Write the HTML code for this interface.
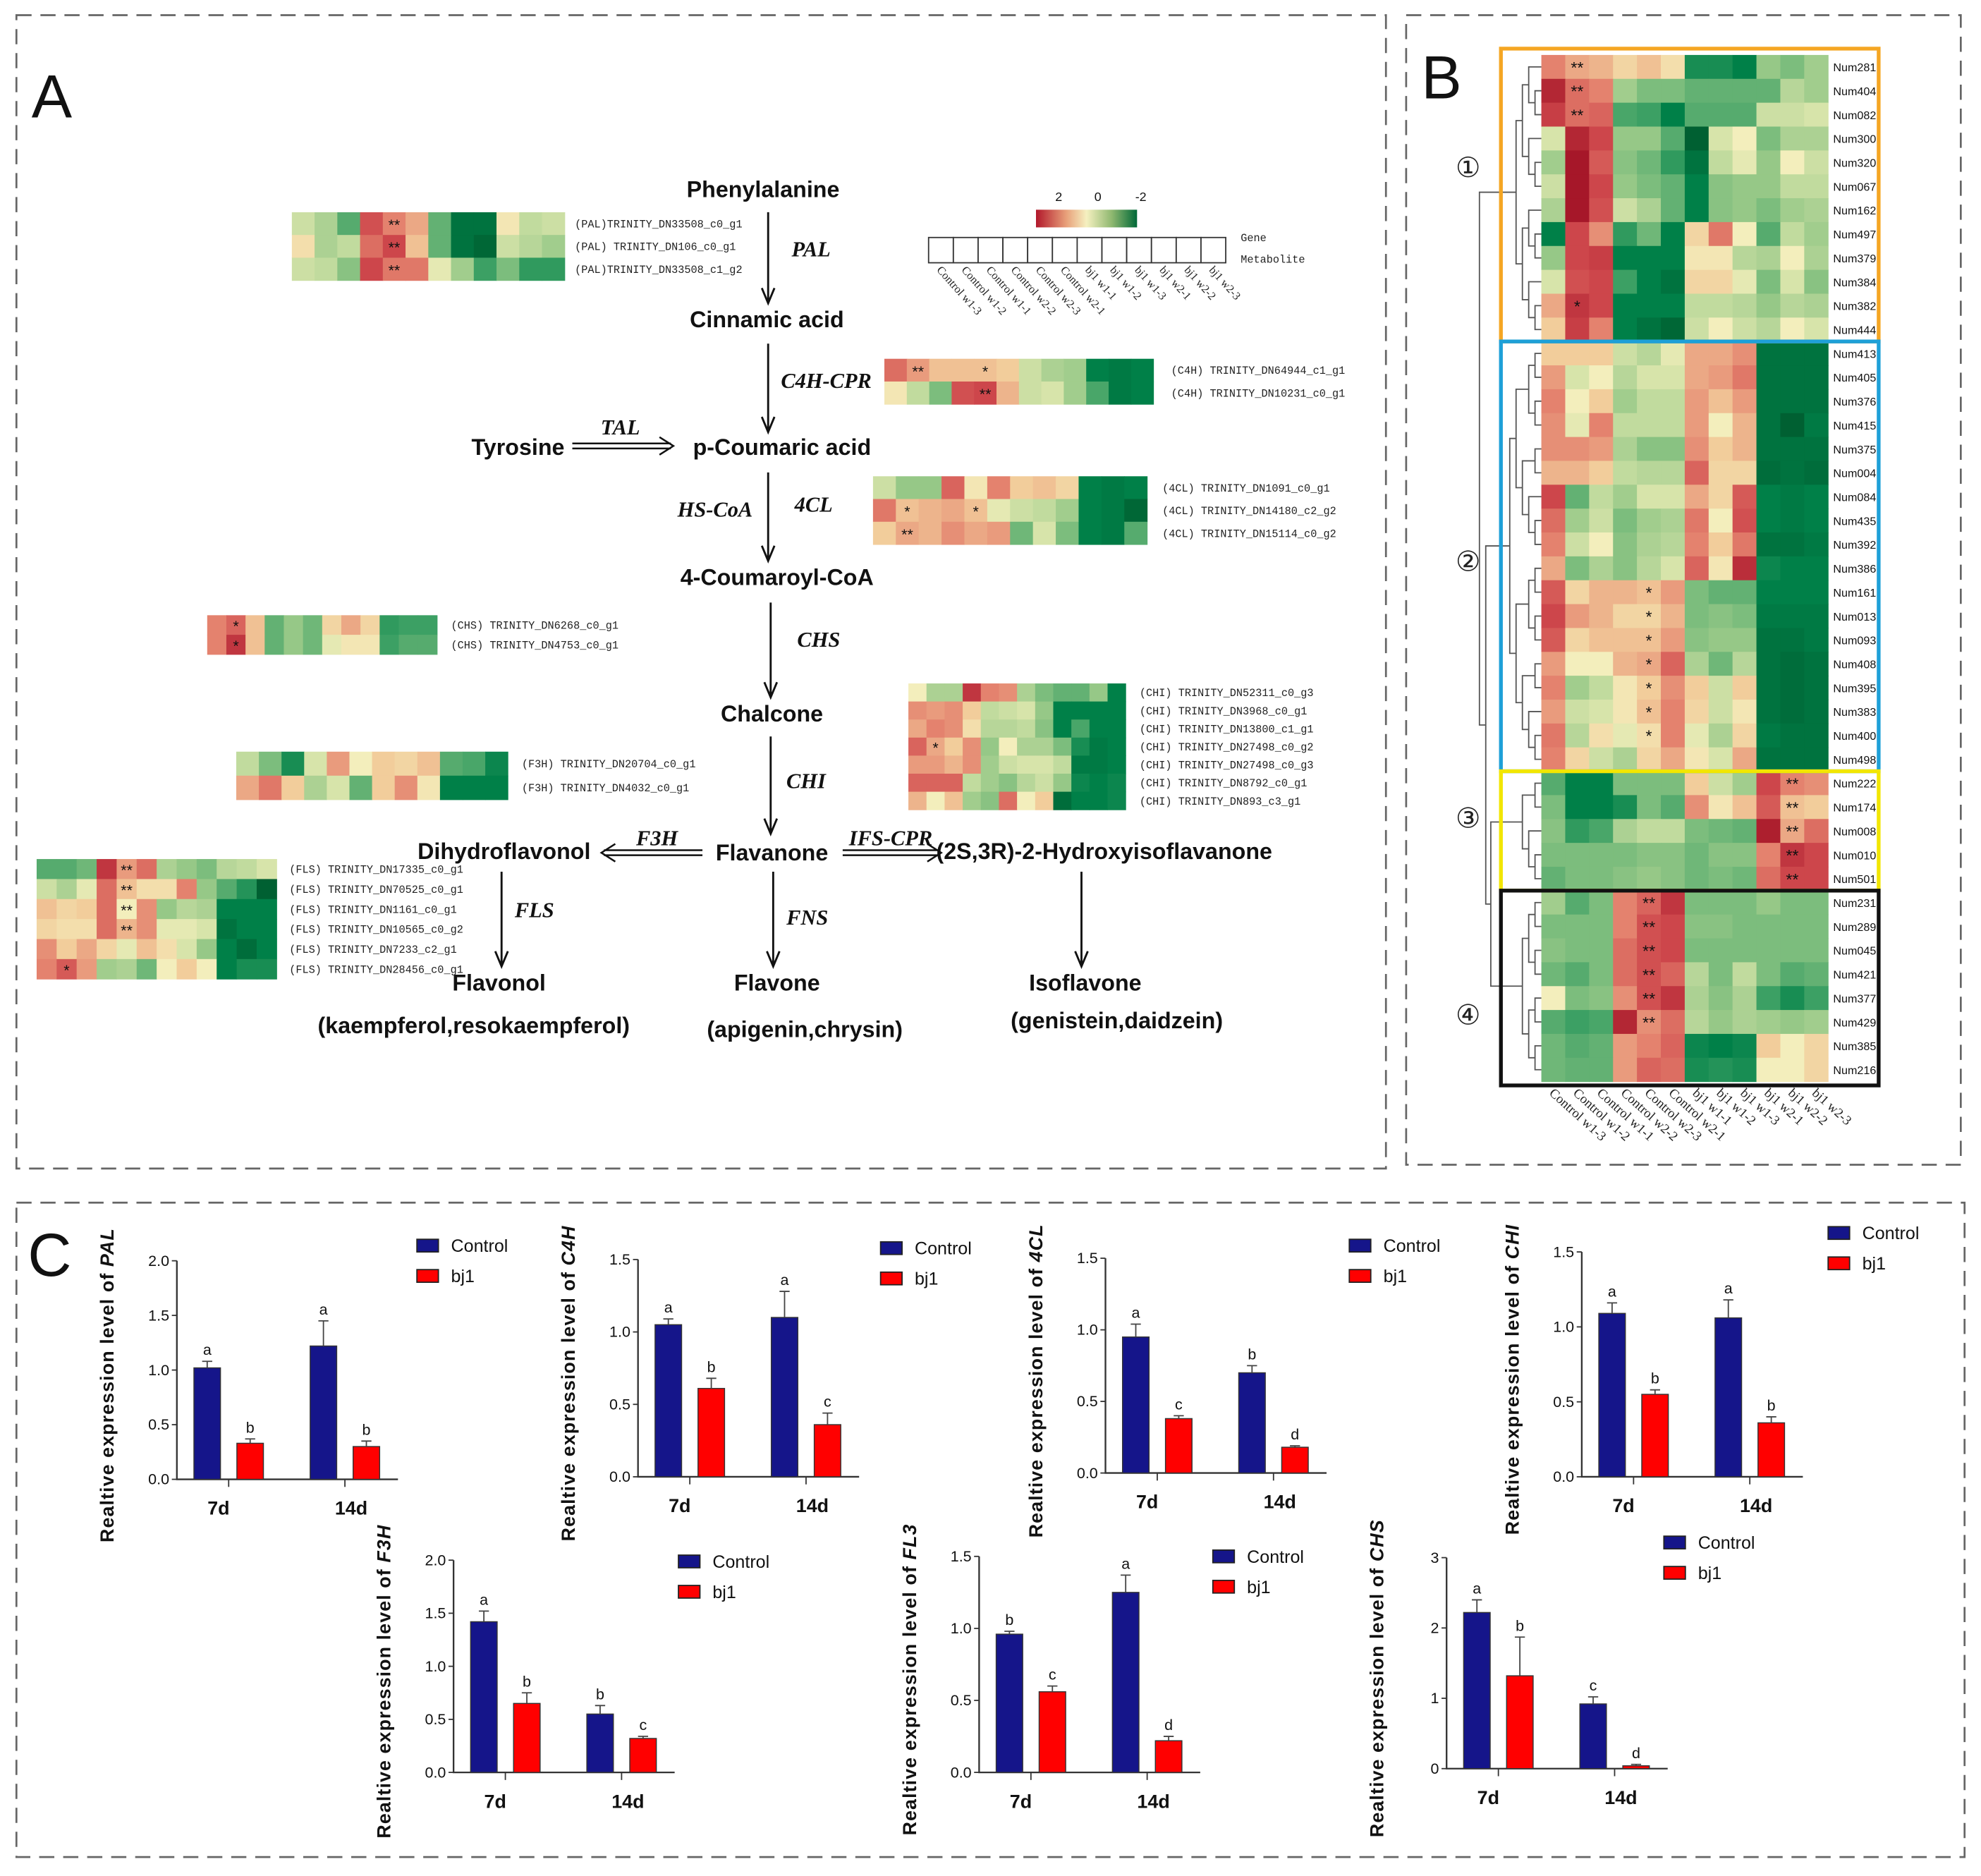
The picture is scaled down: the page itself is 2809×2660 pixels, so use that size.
<!DOCTYPE html>
<html><head><meta charset="utf-8">
<style>
html,body{margin:0;padding:0;background:#fff;}
svg{display:block;}
.cmp{font-family:"Liberation Sans",Arial,sans-serif;font-weight:bold;font-size:18px;fill:#111;text-anchor:middle;}
.enz{font-family:"Liberation Serif",serif;font-style:italic;font-weight:bold;font-size:17px;fill:#111;text-anchor:middle;}
.gl{font-family:"Liberation Mono",monospace;font-size:8.5px;fill:#222;}
.ser{font-family:"Liberation Serif",serif;fill:#222;}
.sans{font-family:"Liberation Sans",Arial,sans-serif;fill:#111;}
</style></head>
<body>
<svg id="fig" xmlns="http://www.w3.org/2000/svg" width="2809" height="2660" viewBox="0 0 1568 1485" preserveAspectRatio="none">
<rect x="0" y="0" width="1568" height="1485" fill="#fff"/>
<g fill="none" stroke="#666" stroke-width="1.5" stroke-dasharray="12 7">
<rect x="13" y="12" width="1084" height="913"/>
<rect x="1113" y="12" width="439" height="910"/>
<rect x="13" y="952" width="1542" height="518"/>
</g>
<text x="25" y="93" class="sans" font-size="48">A</text>
<text x="1125" y="78" class="sans" font-size="48">B</text>
<text x="22" y="1010" class="sans" font-size="48">C</text>

<g id="pathway">
<text x="604" y="156" class="cmp">Phenylalanine</text>
<text x="607" y="259" class="cmp">Cinnamic acid</text>
<text x="619" y="360" class="cmp">p-Coumaric acid</text>
<text x="615" y="463" class="cmp">4-Coumaroyl-CoA</text>
<text x="611" y="571" class="cmp">Chalcone</text>
<text x="611" y="681" class="cmp">Flavanone</text>
<text x="399" y="680" class="cmp">Dihydroflavonol</text>
<text x="874" y="680" class="cmp" font-size="15.5">(2S,3R)-2-Hydroxyisoflavanone</text>
<text x="395" y="784" class="cmp">Flavonol</text>
<text x="615" y="784" class="cmp">Flavone</text>
<text x="859" y="784" class="cmp">Isoflavone</text>
<text x="375" y="818" class="cmp" font-size="16">(kaempferol,resokaempferol)</text>
<text x="637" y="821" class="cmp" font-size="16">(apigenin,chrysin)</text>
<text x="884" y="814" class="cmp" font-size="16">(genistein,daidzein)</text>
<text x="410" y="360" class="cmp" font-size="13">Tyrosine</text>
<text x="642" y="203" class="enz">PAL</text>
<text x="654" y="307" class="enz">C4H-CPR</text>
<text x="491" y="344" class="enz">TAL</text>
<text x="566" y="409" class="enz">HS-CoA</text>
<text x="644" y="405" class="enz">4CL</text>
<text x="648" y="512" class="enz">CHS</text>
<text x="638" y="624" class="enz">CHI</text>
<text x="520" y="669" class="enz">F3H</text>
<text x="705" y="669" class="enz">IFS-CPR</text>
<text x="423" y="726" class="enz">FLS</text>
<text x="639" y="732" class="enz">FNS</text>
<g stroke="#111" stroke-width="1.6" fill="none">
<path d="M608 168 V240 M603 228 L608 240 L613 228"/>
<path d="M608 272 V342 M603 330 L608 342 L613 330"/>
<path d="M608 374 V444 M603 432 L608 444 L613 432"/>
<path d="M610 477 V552 M605 540 L610 552 L615 540"/>
<path d="M610 583 V660 M605 648 L610 660 L615 648"/>
<path d="M612 690 V765 M607 753 L612 765 L617 753"/>
<path d="M397 690 V765 M392 753 L397 765 L402 753"/>
<path d="M856 690 V765 M851 753 L856 765 L861 753"/>
<path d="M453 351 H531 M453 355 H531 M522 346 L533 353 L522 360" stroke-width="1.4"/>
<path d="M556 673 H478 M556 677 H478 M487 668 L476 675 L487 682" stroke-width="1.4"/>
<path d="M667 673 H743 M667 677 H743 M734 668 L745 675 L734 682" stroke-width="1.4"/>
</g>
</g>
<g id="legendA">
<defs><linearGradient id="cb" x1="0" x2="1"><stop offset="0" stop-color="#b2182b"/><stop offset="0.3" stop-color="#e8a07a"/><stop offset="0.5" stop-color="#f5f0c0"/><stop offset="0.75" stop-color="#8fb870"/><stop offset="1" stop-color="#006837"/></linearGradient></defs>
<rect x="820" y="166" width="80" height="14" fill="url(#cb)"/>
<text x="838" y="159" class="sans" font-size="10" text-anchor="middle">2</text>
<text x="869" y="159" class="sans" font-size="10" text-anchor="middle">0</text>
<text x="903" y="159" class="sans" font-size="10" text-anchor="middle">-2</text>
<text x="982" y="191" class="gl" font-size="11">Gene</text>
<text x="982" y="208" class="gl" font-size="11">Metabolite</text>
</g>
<g id="hmA"></g>
<g id="hmB"></g>
<g id="charts"></g>
</svg>
<script>
// ---------- heatmap data (values on -2..2 scale, red=high, green=low) ----------
const sampleLabels = ["Control w1-3","Control w1-2","Control w1-1","Control w2-2","Control w2-3","Control w2-1","bj1 w1-1","bj1 w1-2","bj1 w1-3","bj1 w2-1","bj1 w2-2","bj1 w2-3"];
const palVals = [[-0.3,-0.6,-1.3,1.5,1,0.7,-1.2,-2.2,-2.2,0.1,-0.4,-0.3],[0.2,-0.6,-0.4,1.2,1.6,0.5,-1.2,-2.2,-2.4,-0.3,-0.5,-0.7],[-0.3,-0.4,-0.9,1.6,1.1,1.1,-0.1,-0.7,-1.5,-1,-1.6,-1.6]];
const palGenes = ["(PAL)TRINITY_DN33508_c0_g1","(PAL) TRINITY_DN106_c0_g1","(PAL)TRINITY_DN33508_c1_g2"];
const c4hVals = [[1.2,0.8,0.5,0.5,0.5,0.4,-0.3,-0.6,-0.7,-2,-2.1,-2],[0.1,-0.4,-1,1.5,1.6,0.6,-0.3,-0.2,-0.7,-1.4,-2.1,-2]];
const c4hGenes = ["(C4H) TRINITY_DN64944_c1_g1","(C4H) TRINITY_DN10231_c0_g1"];
const cl4Vals = [[-0.3,-0.8,-0.8,1.3,0.1,1,0.4,0.5,0.3,-2,-2.1,-2],[1.1,0.5,0.6,0.7,0.5,-0.1,-0.3,-0.4,-0.7,-2,-2.1,-2.4],[0.4,0.7,0.6,0.9,0.7,0.8,-1.1,-0.2,-1,-2,-2.1,-1.3]];
const cl4Genes = ["(4CL) TRINITY_DN1091_c0_g1","(4CL) TRINITY_DN14180_c2_g2","(4CL) TRINITY_DN15114_c0_g2"];
const chsVals = [[1,1.3,0.5,-1.2,-0.8,-1.1,0.3,0.7,0.3,-1.6,-1.5,-1.5],[1,1.8,0.5,-1.2,-0.8,-1.1,-0.1,0.1,0.1,-1.5,-1.3,-1.3]];
const chsGenes = ["(CHS) TRINITY_DN6268_c0_g1","(CHS) TRINITY_DN4753_c0_g1"];
const f3hVals = [[-0.4,-1,-1.8,-0.2,0.8,0,0.4,0.3,0.5,-1.3,-1.4,-1.9],[0.7,1.1,0.4,-0.6,-0.2,-1.2,0.4,0.9,0.1,-2,-2,-2]];
const f3hGenes = ["(F3H) TRINITY_DN20704_c0_g1","(F3H) TRINITY_DN4032_c0_g1"];
const chiVals = [[0,-0.6,-0.6,1.8,1,0.9,-0.6,-1,-1.2,-1.2,-0.8,-2],[0.9,0.8,0.9,0.4,-0.4,-0.3,-0.2,-0.8,-2,-2,-2,-2],[0.7,1,0.9,0.2,-0.5,-0.5,-0.4,-0.9,-2,-1.4,-2,-2],[1.3,0.7,0.4,0.9,-0.8,0,-0.6,-0.6,-1,-1.8,-2.1,-2],[0.8,0.8,0.6,0.9,-0.7,-0.3,-0.2,-0.2,-0.4,-2.1,-2.1,-2],[1.3,1.3,1.3,-0.4,-0.7,-0.9,-0.5,-0.3,-0.8,-1.9,-2,-1.9],[0.6,0,0.5,-0.7,-0.9,1.2,0,0.4,-2.3,-2,-2,-1.9]];
const chiGenes = ["(CHI) TRINITY_DN52311_c0_g3","(CHI) TRINITY_DN3968_c0_g1","(CHI) TRINITY_DN13800_c1_g1","(CHI) TRINITY_DN27498_c0_g2","(CHI) TRINITY_DN27498_c0_g3","(CHI) TRINITY_DN8792_c0_g1","(CHI) TRINITY_DN893_c3_g1"];
const flsVals = [[-1.3,-1.3,-1.1,1.8,0.8,1.2,-0.6,-0.8,-1,-0.5,-0.4,-0.2],[-0.3,-0.6,-0.1,1.2,0.5,0.2,0.2,1,-0.8,-1.3,-1.7,-2.5],[0.5,0.3,0.4,1.2,0,0.9,-0.8,-0.5,-0.6,-2,-2,-2],[0.3,0.2,0.2,1.2,0.6,0.9,-0.1,-0.1,-0.2,-2.2,-2,-2],[0.9,0.4,0.7,0.3,-0.1,0.5,0.2,-0.2,-0.8,-2,-2.3,-2],[1,1.4,0.8,-0.7,-0.6,-1.1,0,0.4,0,-2,-1.8,-1.8]];
const flsGenes = ["(FLS) TRINITY_DN17335_c0_g1","(FLS) TRINITY_DN70525_c0_g1","(FLS) TRINITY_DN1161_c0_g1","(FLS) TRINITY_DN10565_c0_g2","(FLS) TRINITY_DN7233_c2_g1","(FLS) TRINITY_DN28456_c0_g1"];

const metNames = ["Num281","Num404","Num082","Num300","Num320","Num067","Num162","Num497","Num379","Num384","Num382","Num444",
"Num413","Num405","Num376","Num415","Num375","Num004","Num084","Num435","Num392","Num386","Num161","Num013","Num093","Num408","Num395","Num383","Num400","Num498",
"Num222","Num174","Num008","Num010","Num501",
"Num231","Num289","Num045","Num421","Num377","Num429","Num385","Num216"];
const metVals = [
[1,0.7,0.6,0.3,0.5,0.2,-1.8,-1.8,-2,-0.8,-1,-0.7],
[2,1.2,1,-0.7,-1,-1,-1.2,-1.2,-1.2,-1.2,-0.5,-0.7],
[1.7,1.2,1.3,-1.4,-1.5,-2,-1.3,-1.3,-1.3,-0.3,-0.3,-0.2],
[-0.2,2,1.6,-0.8,-0.8,-1.3,-2.5,-0.2,0,-1,-0.6,-0.6],
[-0.7,2.2,1.4,-0.9,-1.1,-1.6,-2.2,-0.4,-0.1,-0.8,0,-0.3],
[-0.3,2.2,1.6,-0.8,-1,-1.2,-2,-0.9,-0.8,-0.8,-0.4,-0.4],
[-0.6,2.2,1.5,-0.3,-0.6,-1.2,-2,-0.9,-0.8,-1,-0.7,-0.6],
[-2,1.6,0.9,-1.6,-1.1,-2,0.3,1.1,0,-1.3,-0.4,-0.7],
[-0.8,1.6,1.7,-2,-2,-2,0.1,0.1,-0.5,-0.6,0,-0.6],
[-0.2,1.5,1.6,-1.5,-2,-2.2,0.3,0.3,-0.1,-1,-0.2,-0.9],
[0.7,1.8,1.6,-2,-2,-2,-0.4,-0.4,-0.5,-0.8,-0.5,-0.6],
[0.4,1.7,1,-2,-2.2,-2.4,-0.3,0,-0.3,-0.5,0,-0.2],
[0.4,0.4,0.4,-0.3,-0.5,-0.1,0.7,0.7,0.9,-2.2,-2.2,-2.2],
[0.8,-0.2,0,-0.5,-0.2,-0.2,0.7,0.8,1.1,-2.2,-2.2,-2.2],
[1,0,0.4,-0.7,-0.4,-0.4,0.8,0.5,0.8,-2.2,-2.2,-2.2],
[0.9,-0.1,1,-0.4,-0.4,-0.4,0.8,0,0.6,-2.2,-2.5,-2.1],
[0.9,0.9,0.8,-0.6,-0.9,-0.9,0.9,0.4,0.6,-2.2,-2.2,-2.2],
[0.6,0.6,0.4,-0.4,-0.5,-0.5,1.3,0.3,0.3,-2.3,-2.2,-2.3],
[1.6,-1.2,-0.4,-0.7,-0.2,-0.2,0.7,0.3,1.4,-2,-2.1,-2],
[1.2,-0.7,-0.3,-1,-0.7,-0.6,1.1,0,1.5,-2,-2.1,-2],
[1,-0.3,0,-0.9,-0.6,-0.5,1,0.4,1.1,-2.2,-2.2,-2.1],
[0.7,-1,-0.6,-0.9,-0.5,-0.2,1.3,0.1,1.9,-1.9,-2,-2],
[1.4,0.3,0.6,0.6,0.5,0.8,-1,-1.2,-1.2,-2,-2,-2],
[1.6,0.8,0.6,0.3,0.3,0.6,-1,-0.9,-1,-2.1,-2.1,-2.1],
[1.4,0.3,0.5,0.5,0.5,0.8,-0.9,-0.8,-0.8,-2.2,-2.2,-2.1],
[0.8,0,0,0.6,0.7,1.3,-0.6,-1.1,-0.5,-2.2,-2.3,-2.2],
[1,-0.7,-0.4,0.1,0.4,0.9,0.4,-0.3,0.4,-2.2,-2.3,-2.2],
[0.8,-0.3,-0.2,0.1,0.5,1,0.3,-0.3,0.1,-2.2,-2.3,-2.2],
[1.1,-0.5,0.2,-0.1,0.2,1,-0.1,-0.6,0.3,-2.1,-2.2,-2.2],
[1,0.3,-0.3,-0.6,0.3,0.7,0.1,-0.2,0.7,-2.2,-2.2,-2.2],
[-1.3,-2,-2,-1,-1,-1,0.4,-0.3,-0.7,1.6,1,0.9],
[-1,-2,-2,-1.8,-1,-1.3,0.9,0.1,0.5,1.4,0.5,0.4],
[-0.9,-1.6,-1.4,-0.6,-0.4,-0.4,-1,-1.1,-1.2,2.1,0.7,1.2],
[-1,-1,-1,-1,-0.9,-0.9,-1.1,-0.9,-0.9,1,1.8,1.6],
[-1.2,-1,-1,-0.9,-0.8,-0.9,-1.1,-1,-1.1,1.2,1.6,1.6],
[-0.7,-1.3,-1,1,1.3,1.8,-1,-1,-1,-0.8,-1,-1],
[-1,-1,-1,1,1.5,1.6,-0.9,-0.9,-1,-1,-1,-1],
[-0.9,-1,-1,1.2,1.5,1.6,-1,-1,-1,-1,-1,-1],
[-1.1,-1.3,-1,1.2,1.5,1.3,-0.5,-1,-0.4,-1,-1.3,-1.2],
[0,-1,-0.9,0.9,1.5,1.8,-0.6,-0.9,-0.6,-1.5,-1.8,-1.5],
[-1.3,-1.5,-1.4,2,0.9,1.2,-0.5,-0.8,-0.6,-0.7,-0.8,-0.7],
[-1.1,-1.3,-1.2,0.8,1,1.3,-1.9,-2,-1.9,0.4,0,0.3],
[-1.1,-1.2,-1.2,0.8,1.3,1.2,-1.8,-1.7,-1.8,0,0,0.3]];
const clusterSizes = [12,18,5,8];
const clusterColors = ["#f5a623","#1ea0d8","#f2e600","#111111"];
const clusterMarks = ["①","②","③","④"];

// ---------- qPCR bar chart data ----------
const chartGenes = ["PAL","C4H","4CL","CHI","F3H","FL3","CHS"];
const categories = ["7d","14d"];
const ctrlVals = [[1.02,1.22],[1.05,1.10],[0.95,0.70],[1.09,1.06],[1.42,0.55],[0.96,1.25],[2.22,0.92]];
const ctrlErr  = [[0.06,0.23],[0.04,0.18],[0.09,0.05],[0.07,0.12],[0.10,0.08],[0.02,0.12],[0.18,0.10]];
const bj1Vals  = [[0.33,0.30],[0.61,0.36],[0.38,0.18],[0.55,0.36],[0.65,0.32],[0.56,0.22],[1.32,0.04]];
const bj1Err   = [[0.04,0.05],[0.07,0.08],[0.02,0.01],[0.03,0.04],[0.10,0.02],[0.04,0.03],[0.55,0.02]];
const ctrlLetters = [["a","a"],["a","a"],["a","b"],["a","a"],["a","b"],["b","a"],["a","c"]];
const bj1Letters  = [["b","b"],["b","c"],["c","d"],["b","b"],["b","c"],["c","d"],["b","d"]];
const yMaxes = [2.0,1.5,1.5,1.5,2.0,1.5,3];
const yTickLabels = [["0.0","0.5","1.0","1.5","2.0"],["0.0","0.5","1.0","1.5"],["0.0","0.5","1.0","1.5"],["0.0","0.5","1.0","1.5"],["0.0","0.5","1.0","1.5","2.0"],["0.0","0.5","1.0","1.5"],["0","1","2","3"]];

// ---------- rendering ----------
const NS = "http://www.w3.org/2000/svg";
function mk(tag, parent) { const e = document.createElementNS(NS, tag); parent.appendChild(e); return e; }
function setA(e, o) { for (const k in o) e.setAttribute(k, o[k]); }
const stops = [[-2.6,[0,90,45]],[-2,[0,128,72]],[-1.5,[60,160,100]],[-0.8,[150,200,135]],[-0.2,[215,228,170]],[0,[243,238,188]],[0.4,[242,205,155]],[1,[228,130,110]],[1.6,[205,70,75]],[2.3,[160,15,35]]];
function col(v) {
  if (v <= stops[0][0]) return "rgb(" + stops[0][1].join(",") + ")";
  for (let i = 1; i < stops.length; i++) {
    if (v <= stops[i][0]) {
      const a = stops[i-1], b = stops[i], t = (v - a[0]) / (b[0] - a[0]);
      return "rgb(" + a[1].map((c, j) => Math.round(c + (b[1][j] - c) * t)).join(",") + ")";
    }
  }
  return "rgb(" + stops[stops.length-1][1].join(",") + ")";
}
function heat(g, name, vals, x, y, w, h, genes, lx, stars, fs, sfs) {
  const grp = mk("g", g);
  
  
  const cw = w / vals[0].length, rh = h / vals.length;
  vals.forEach((row, r) => {
    row.forEach((v, c) => {
      const rc = mk("rect", grp);
      setA(rc, {x: x + c*cw, y: y + r*rh, width: cw + 0.3, height: rh + 0.3, fill: col(v)});
      
      
    });
    if (genes) {
      const t = mk("text", grp);
      setA(t, {x: lx, y: y + (r+0.5)*rh + 3, class: "gl", "font-size": fs || 8.5});
      t.textContent = genes[r];
      
      
    }
  });
  stars.forEach(s => {
    const t = mk("text", grp);
    setA(t, {x: x + (s[1]+0.5)*cw, y: y + (s[0]+0.5)*rh + 5, "text-anchor": "middle", class: "sans", "font-size": sfs || 12, fill: "#222"});
    t.textContent = s[2];
    
    
  });
}
const hmA = document.getElementById("hmA");
heat(hmA, "pal-heatmap", palVals, 231, 168, 216, 54, palGenes, 455, [[0,4,"**"],[1,4,"**"],[2,4,"**"]]);
heat(hmA, "c4h-heatmap", c4hVals, 700, 284, 213, 36, c4hGenes, 927, [[0,1,"**"],[0,4,"*"],[1,4,"**"]]);
heat(hmA, "4cl-heatmap", cl4Vals, 691, 377, 217, 54, cl4Genes, 920, [[1,1,"*"],[1,4,"*"],[2,1,"**"]]);
heat(hmA, "chs-heatmap", chsVals, 164, 487, 182, 31, chsGenes, 357, [[0,1,"*"],[1,1,"*"]], 7.5);
heat(hmA, "f3h-heatmap", f3hVals, 187, 595, 215, 38, f3hGenes, 413, []);
heat(hmA, "chi-heatmap", chiVals, 719, 541, 172, 100, chiGenes, 902, [[3,1,"*"]], 7.5);
heat(hmA, "fls-heatmap", flsVals, 29, 680, 190, 95, flsGenes, 229, [[0,4,"**"],[1,4,"**"],[2,4,"**"],[3,4,"**"],[5,1,"*"]], 7.5);

// gene/metabolite legend boxes and sample labels
const lg = document.getElementById("legendA");
sampleLabels.forEach((s, i) => {
  const r = mk("rect", lg);
  setA(r, {x: 735 + i*19.6, y: 188, width: 19.6, height: 20, fill: "#fff", stroke: "#333", "stroke-width": 1});
  
  
  const t = mk("text", lg);
  const tx = 741 + i*19.6, ty = 214;
  setA(t, {x: tx, y: ty, class: "ser", "font-size": 9, transform: "rotate(48 " + tx + " " + ty + ")"});
  t.textContent = s;
  
  
});

// Panel B
const hmB = document.getElementById("hmB");
const bx = 1220, by = 43.5, bw = 227, rowH = 18.9;
const bStars = [];
[0,1,2].forEach(r => bStars.push([r,1,"**"]));
bStars.push([10,1,"*"]);
for (let r = 22; r <= 28; r++) bStars.push([r,4,"*"]);
for (let r = 30; r <= 34; r++) bStars.push([r,10,"**"]);
for (let r = 35; r <= 40; r++) bStars.push([r,4,"**"]);
heat(hmB, "metabolite-heatmap-cells", metVals, bx, by, bw, rowH*metVals.length, null, 0, bStars, 0, 13);
metNames.forEach((n, r) => {
  const t = mk("text", hmB);
  setA(t, {x: 1451, y: by + (r+0.5)*rowH + 3.5, class: "sans", "font-size": 9, fill: "#222", textLength: 34, lengthAdjust: "spacingAndGlyphs"});
  t.textContent = n;
  
  
});
// cluster boxes + dendrogram
let start = 0;
const dg = mk("g", hmB);


function sub(lo, hi, depth) {
  if (hi - lo === 1) return {y: by + (lo+0.5)*rowH, x: bx};
  const mid = Math.floor((lo + hi) / 2);
  const a = sub(lo, mid, depth+1), b = sub(mid, hi, depth+1);
  const x = Math.min(a.x, b.x) - 5;
  const p = mk("path", dg);
  setA(p, {d: "M" + a.x + " " + a.y + " H" + x + " V" + b.y + " H" + b.x, fill: "none", stroke: "#555", "stroke-width": 1});
  
  
  return {y: (a.y + b.y) / 2, x: x};
}
const roots = [];
clusterSizes.forEach((n, k) => {
  const top = by + start*rowH, bot = by + (start+n)*rowH;
  const r = mk("rect", hmB);
  setA(r, {x: 1188, y: top - (k===0 ? 5 : 0), width: 299, height: bot - top + (k===0 ? 5 : 0) + (k===3 ? 3 : 0), fill: "none", stroke: clusterColors[k], "stroke-width": 3});
  
  
  roots.push(sub(start, start+n, 0));
  const t = mk("text", hmB);
  setA(t, {x: 1162, y: [140, 452, 655, 811][k], class: "ser", "font-size": 22, "text-anchor": "middle", fill: "#222"});
  t.textContent = clusterMarks[k];
  
  
  start += n;
});
function join(a, b, x) {
  const p = mk("path", dg);
  setA(p, {d: "M" + a.x + " " + a.y + " H" + x + " V" + b.y + " H" + b.x, fill: "none", stroke: "#555", "stroke-width": 1});
  
  
  return {x: x, y: (a.y + b.y) / 2};
}
const j1 = join(roots[2], roots[3], 1180);
const j2 = join(roots[1], j1, 1176);
join(roots[0], j2, 1171);
sampleLabels.forEach((s, i) => {
  const t = mk("text", hmB);
  const tx = bx + (i+0.3)*bw/12, ty = 866;
  setA(t, {x: tx, y: ty, class: "ser", "font-size": 10.5, transform: "rotate(42 " + tx + " " + ty + ")"});
  t.textContent = s;
  
  
});

// Panel C charts
const layout = [[140,1171,998,330,986],[505,1169,997,697,988],[875,1166,996,1068,986],[1252,1169,991,1447,976],[359,1403,1235,537,1236],[775,1403,1232,960,1232],[1145,1400,1233,1317,1221]];
const barOff = [[24,58],[116,150]];
const cg = document.getElementById("charts");
chartGenes.forEach((gene, k) => {
  const [ax, y0, yT, lgx, lgy] = layout[k];
  const g = mk("g", cg);
  
  
  const ys = v => y0 - v / yMaxes[k] * (y0 - yT);
  const axis = mk("path", g);
  setA(axis, {d: "M" + ax + " " + yT + " V" + y0 + " H" + (ax + 175), stroke: "#333", "stroke-width": 1.3, fill: "none"});
  
  
  const ticks = yTickLabels[k];
  ticks.forEach((lab, i) => {
    const v = yMaxes[k] * i / (ticks.length - 1);
    const tk = mk("line", g);
    setA(tk, {x1: ax - 4, x2: ax, y1: ys(v), y2: ys(v), stroke: "#333", "stroke-width": 1});
    
    
    const t = mk("text", g);
    setA(t, {x: ax - 6, y: ys(v) + 4, class: "sans", "font-size": 12, "text-anchor": "end", fill: "#333"});
    t.textContent = lab;
    
    
  });
  categories.forEach((cat, ci) => {
    const series = [[ctrlVals[k][ci], ctrlErr[k][ci], ctrlLetters[k][ci], "#15158a", "control"], [bj1Vals[k][ci], bj1Err[k][ci], bj1Letters[k][ci], "#ff0000", "bj1"]];
    series.forEach((s, si) => {
      const cx = ax + barOff[ci][si];
      const b = mk("rect", g);
      setA(b, {x: cx - 10.5, y: ys(s[0]), width: 21, height: y0 - ys(s[0]), fill: s[3], stroke: "#333", "stroke-width": 0.8});
      
      
      const e = mk("path", g);
      setA(e, {d: "M" + cx + " " + ys(s[0]) + " V" + ys(s[0] + s[1]) + " M" + (cx - 4) + " " + ys(s[0] + s[1]) + " H" + (cx + 4), stroke: "#444", "stroke-width": 1, fill: "none"});
      
      
      const t = mk("text", g);
      setA(t, {x: cx, y: ys(s[0] + s[1]) - 5, class: "sans", "font-size": 12, "text-anchor": "middle", fill: "#333"});
      t.textContent = s[2];
      
      
    });
    const xt = mk("line", g);
    const mx = ax + (barOff[ci][0] + barOff[ci][1]) / 2;
    setA(xt, {x1: mx, x2: mx, y1: y0, y2: y0 + 6, stroke: "#333", "stroke-width": 1});
    
    
    const t = mk("text", g);
    setA(t, {x: mx + (ci ? 5 : -8), y: y0 + 28, class: "sans", "font-size": 15, "font-weight": "bold", "text-anchor": "middle"});
    t.textContent = cat;
    
    
  });
  const tx = ax - 50, ty = (y0 + yT) / 2 + 12;
  const title = mk("text", g);
  setA(title, {x: tx, y: ty, class: "sans", "font-size": 15, "font-weight": "bold", "text-anchor": "middle", "letter-spacing": "0.6", transform: "rotate(-90 " + tx + " " + ty + ")"});
  title.textContent = "Realtive expression level of  ";
  const it = mk("tspan", title);
  it.setAttribute("font-style", "italic");
  it.textContent = gene;
  
  
  [["Control", "#15158a"], ["bj1", "#ff0000"]].forEach((L, li) => {
    const sq = mk("rect", g);
    setA(sq, {x: lgx, y: lgy + li*24 - 5, width: 17, height: 10, fill: L[1], stroke: "#222", "stroke-width": 1});
    
    
    const t = mk("text", g);
    setA(t, {x: lgx + 27, y: lgy + li*24 + 5, class: "sans", "font-size": 14, fill: "#222"});
    t.textContent = L[0];
    
    
  });
});
</script>
</body></html>
